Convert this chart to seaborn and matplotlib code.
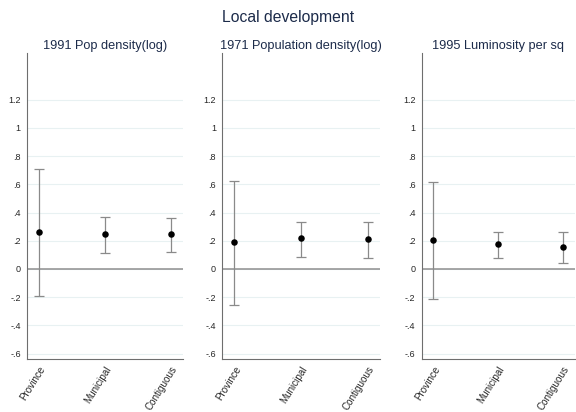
import numpy as np
import pandas as pd
import seaborn as sns
import matplotlib
matplotlib.use("Agg")
import matplotlib.pyplot as plt

# data
levels = ["Province", "Municipal", "Contiguous"]
titles = ["1991 Pop density(log)", "1971 Population density(log)", "1995 Luminosity per sq"]

est_pop91 = [0.26, 0.245, 0.245]
lo_pop91 = [-0.19, 0.11, 0.118]
hi_pop91 = [0.706, 0.37, 0.363]

est_pop71 = [0.19, 0.217, 0.21]
lo_pop71 = [-0.255, 0.083, 0.076]
hi_pop71 = [0.625, 0.335, 0.335]

est_lum95 = [0.205, 0.175, 0.154]
lo_lum95 = [-0.21, 0.08, 0.04]
hi_lum95 = [0.616, 0.264, 0.264]

yticks = [-0.6, -0.4, -0.2, 0, 0.2, 0.4, 0.6, 0.8, 1, 1.2]
ytick_labels = ["-.6", "-.4", "-.2", "0", ".2", ".4", ".6", ".8", "1", "1.2"]

sns.set_style("white")
plt.rcParams["font.family"] = ["Liberation Sans", "DejaVu Sans"]

title_col = "#1c2b4a"
grid_col = "#e8f1f2"
axis_col = "#6e6e6e"
bar_col = "#8a8a8a"

fig = plt.figure(figsize=(5.76, 4.12), dpi=100)
positions = [
    [0.047, 0.129, 0.271, 0.742],
    [0.386, 0.129, 0.274, 0.742],
    [0.732, 0.129, 0.266, 0.742],
]
series = [
    (est_pop91, lo_pop91, hi_pop91),
    (est_pop71, lo_pop71, hi_pop71),
    (est_lum95, lo_lum95, hi_lum95),
]

for pos, title, (est, lo, hi) in zip(positions, titles, series):
    ax = fig.add_axes(pos)
    df = pd.DataFrame({"level": levels, "x": np.arange(1, 4), "est": est,
                       "lo": lo, "hi": hi})
    for yv in yticks:
        ax.axhline(yv, color=grid_col, lw=0.8, zorder=0)
    ax.axhline(0, color="#8f8f8f", lw=1.1, zorder=1)
    ax.errorbar(df["x"], df["est"],
                yerr=[df["est"] - df["lo"], df["hi"] - df["est"]],
                fmt="none", ecolor=bar_col, elinewidth=0.9, capsize=3.5,
                capthick=0.9, zorder=2)
    sns.scatterplot(data=df, x="x", y="est", ax=ax, color="black", s=22,
                    edgecolor="black", linewidth=0, zorder=3, legend=False)
    ax.set_xlim(0.82, 3.19)
    ax.set_ylim(-0.637, 1.53)
    ax.set_yticks(yticks)
    ax.set_yticklabels(ytick_labels, fontsize=6.5)
    ax.set_xticks([0.9, 1, 2, 3, 3.1])
    ax.set_xticklabels(["", levels[0], levels[1], levels[2], ""],
                       rotation=58, ha="right", rotation_mode="anchor",
                       fontsize=7.1)
    ax.tick_params(axis="both", length=3, width=0.6, color=axis_col, pad=2)
    ax.tick_params(axis="x", pad=1)
    ax.tick_params(axis="y", pad=1.5)
    ax.set_xlabel("")
    ax.set_ylabel("")
    sns.despine(ax=ax)
    for side in ["left", "bottom"]:
        ax.spines[side].set_color(axis_col)
        ax.spines[side].set_linewidth(0.8)
    ax.set_title(title, fontsize=9.2, color=title_col, pad=3)

fig.suptitle("Local development", fontsize=11.3, color=title_col, y=0.975)
fig.savefig("out.png", dpi=100)
